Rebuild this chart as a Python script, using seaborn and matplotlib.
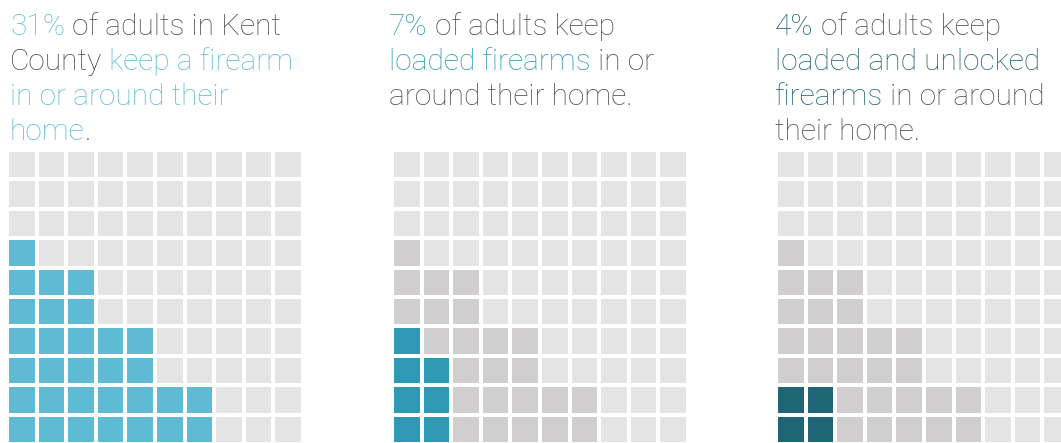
import numpy as np
import matplotlib
matplotlib.use("Agg")
import matplotlib.pyplot as plt
from matplotlib.colors import ListedColormap
import seaborn as sns

sns.set_style("white")
plt.rcParams['font.family'] = ['Roboto', 'DejaVu Sans']

# --- data (cells per row, counted from the bottom row up) ---
owners_by_row = [7, 7, 5, 5, 3, 3, 1, 0, 0, 0]          # 31%
loaded_by_row = [2, 2, 2, 1, 0, 0, 0, 0, 0, 0]          # 7%
unlocked_by_row = [2, 2, 0, 0, 0, 0, 0, 0, 0, 0]        # 4%
percents = ["31%", "7%", "4%"]

EMPTY = "#E4E4E4"
OWNER_GREY = "#D0CECF"
TEXT_GREY = "#4D4D4D"
C1, C2, C3 = "#5FBAD3", "#2F98B4", "#206576"

W, H = 1061, 443
fig = plt.figure(figsize=(W / 100, H / 100), dpi=100)


def build(highlight):
    m = np.zeros((10, 10))
    for r in range(10):
        row = 9 - r
        m[row, :owners_by_row[r]] = 1
        m[row, :highlight[r]] = 2
    return m


panels = [
    (8, owners_by_row, C1),
    (393, loaded_by_row, C2),
    (777, unlocked_by_row, C3),
]
for left, hl, col in panels:
    ax = fig.add_axes([(left - 1) / W, -1 / H, 296 / W, (443 - 150 + 1) / H])
    sns.heatmap(build(hl), cmap=ListedColormap([EMPTY, OWNER_GREY, col]),
                vmin=-0.5, vmax=2.5, cbar=False, linewidths=1.45,
                linecolor="white", xticklabels=False, yticklabels=False, ax=ax)
    ax.set_axis_off()

texts = [
    (10, [[(percents[0], C1), (" of adults in Kent", TEXT_GREY)],
          [("County", TEXT_GREY), (" keep a firearm", C1)],
          [("in or around their", C1)],
          [("home", C1), (".", TEXT_GREY)]]),
    (389, [[(percents[1], C2), (" of adults keep", TEXT_GREY)],
           [("loaded firearms", C2), (" in or", TEXT_GREY)],
           [("around their home.", TEXT_GREY)]]),
    (775, [[(percents[2], C3), (" of adults keep", TEXT_GREY)],
           [("loaded and unlocked", C3)],
           [("firearms", C3), (" in or around", TEXT_GREY)],
           [("their home.", TEXT_GREY)]]),
]

fig.canvas.draw()
renderer = fig.canvas.get_renderer()
FS = 21.5
baselines = [35, 70, 105, 140]
for x0, lines in texts:
    for li, pieces in enumerate(lines):
        x = x0
        y = H - baselines[li]
        for s, c in pieces:
            t = fig.text(x / W, y / H, s, color=c, fontsize=FS, fontweight="light",
                         ha="left", va="baseline")
            bb = t.get_window_extent(renderer)
            x += bb.width

fig.savefig("out.png", dpi=100)
